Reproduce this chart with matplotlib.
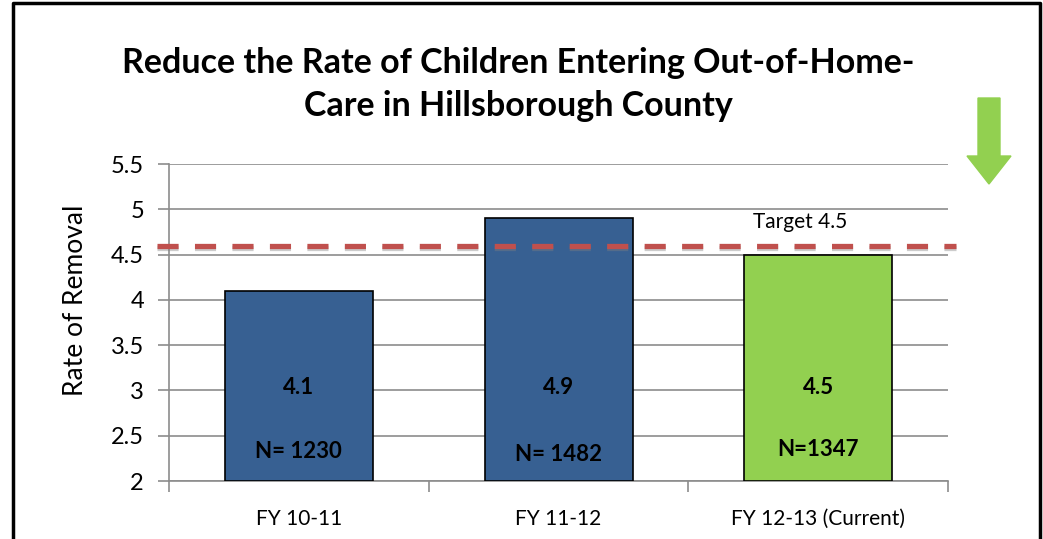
import matplotlib
matplotlib.use('Agg')
import matplotlib.pyplot as plt
import matplotlib.patches as patches
import matplotlib.patheffects as pe

plt.rcParams['font.family'] = ['Lato', 'DejaVu Sans']

categories = ['FY 10-11', 'FY 11-12', 'FY 12-13 (Current)']
rates = [4.1, 4.9, 4.5]
counts = ['N= 1230', 'N= 1482', 'N=1347']
bar_colors = ['#376092', '#376092', '#92d050']
target_value = 4.6
target_text = 'Target 4.5'
yticks = [2, 2.5, 3, 3.5, 4, 4.5, 5, 5.5]

fig = plt.figure(figsize=(10.43, 5.39), dpi=100)
ax = fig.add_axes([0.162, 0.1076, 0.747, 0.588])

x = range(len(categories))
ax.bar(x, [r - 2 for r in rates], bottom=2, width=0.57, color=bar_colors,
       edgecolor='black', linewidth=1.2, zorder=3)

ax.set_xlim(-0.5, len(categories) - 0.5)
ax.set_ylim(2, 5.5)
ax.set_yticks(yticks)
ax.set_yticklabels([f'{t:g}' for t in yticks], fontsize=17)
ax.yaxis.grid(True, color='#8c8c8c', linewidth=1.2, zorder=0)
ax.set_xticks([-0.5, 0.5, 1.5, 2.5], minor=True)
ax.set_xticks(list(x))
ax.set_xticklabels(categories, fontsize=15)
ax.tick_params(axis='x', which='major', length=0, pad=20)
ax.tick_params(axis='x', which='minor', length=8, color='#8c8c8c', width=1.2)
ax.tick_params(axis='y', length=8, color='#8c8c8c', width=1.2, pad=10)
for s in ['top', 'right']:
    ax.spines[s].set_visible(False)
for s in ['left', 'bottom']:
    ax.spines[s].set_color('#8c8c8c')
    ax.spines[s].set_linewidth(1.2)
ax.set_ylabel('Rate of Removal', fontsize=19)
ax.yaxis.set_label_coords(-0.104, 0.571)

# bar labels
n_offsets = [2.33, 2.29, 2.35]
for i, (r, n) in enumerate(zip(rates, counts)):
    ax.text(i, 3.03, f'{r:.1f}', ha='center', va='center', fontsize=16,
            fontweight='bold', zorder=4)
    ax.text(i, n_offsets[i], n, ha='center', va='center', fontsize=16,
            fontweight='bold', zorder=4)

# target line
ax.plot([-0.546, 2.53], [target_value, target_value], color='#c0504d',
        linewidth=3.8, dashes=(4.0, 3.1), clip_on=False, zorder=5,
        path_effects=[pe.SimpleLineShadow(offset=(0, -1.5), shadow_color='gray', alpha=0.4),
                      pe.Normal()])
ax.text(1.93, 4.86, target_text, ha='center', va='center', fontsize=15)

fig.text(0.497, 0.883, 'Reduce the Rate of Children Entering Out-of-Home-',
         ha='center', va='center', fontsize=24.5, fontweight='bold')
fig.text(0.497, 0.803, 'Care in Hillsborough County',
         ha='center', va='center', fontsize=24.5, fontweight='bold')

# down arrow
arrow = patches.FancyArrow(989 / 1043, 1 - 98 / 539, 0, -(86 / 539), width=22 / 1043,
                           head_width=44 / 1043, head_length=28 / 539,
                           length_includes_head=True, color='#92d050',
                           transform=fig.transFigure)
fig.patches.append(arrow)

# frame
fig.add_artist(plt.Line2D([13 / 1043, 13 / 1043, 1040 / 1043, 1040 / 1043],
                          [0, 1 - 3 / 539, 1 - 3 / 539, 0], color='black',
                          linewidth=2.5, transform=fig.transFigure))

fig.savefig('out.png', dpi=100)
